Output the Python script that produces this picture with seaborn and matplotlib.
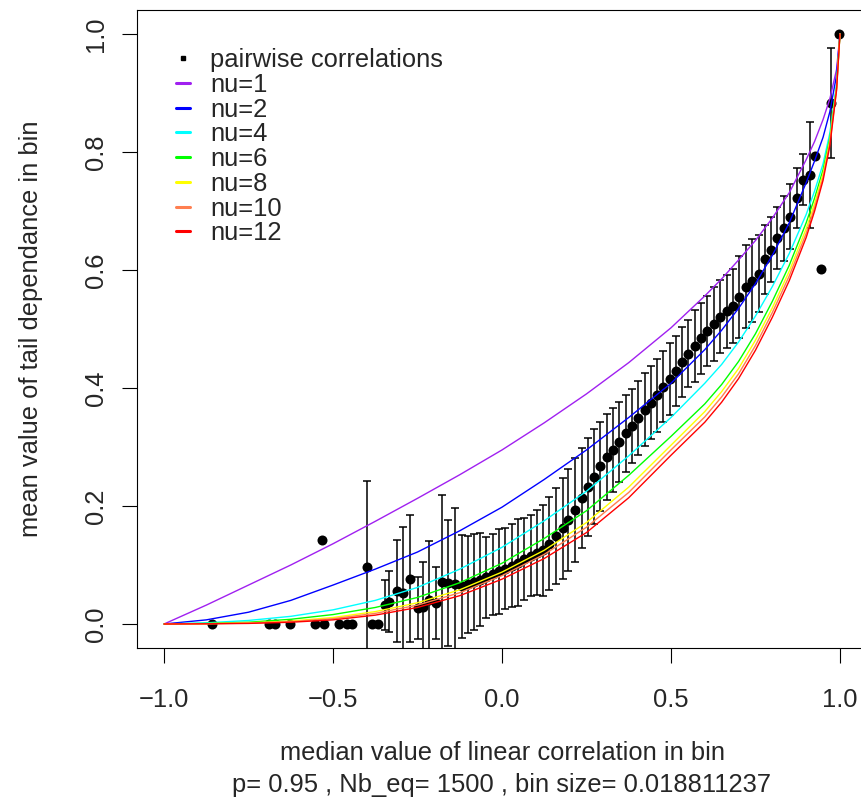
import numpy as np
import pandas as pd
import matplotlib
matplotlib.use("Agg")
import matplotlib.pyplot as plt
from matplotlib.lines import Line2D
import seaborn as sns

# ---------------------------------------------------------------------------
# data
# ---------------------------------------------------------------------------
# theoretical curves, one per nu
rho_grid = [-1.0, -0.875, -0.75, -0.625, -0.5, -0.375, -0.25, -0.125, 0.0, 0.125,
            0.25, 0.375, 0.5, 0.6, 0.65, 0.7, 0.75, 0.8, 0.85, 0.9,
            0.925, 0.95, 0.97, 0.99, 1.0]
nu1 = [0, 0.032, 0.066, 0.100, 0.136, 0.174, 0.213, 0.253, 0.295, 0.341,
       0.390, 0.443, 0.502, 0.556, 0.585, 0.617, 0.650, 0.688, 0.731, 0.787,
       0.818, 0.855, 0.890, 0.940, 1.0]
nu2 = [0, 0.007, 0.020, 0.040, 0.066, 0.093, 0.122, 0.158, 0.198, 0.245,
       0.295, 0.350, 0.408, 0.465, 0.498, 0.535, 0.577, 0.625, 0.680, 0.748,
       0.785, 0.825, 0.868, 0.930, 1.0]
nu4 = [0, 0.002, 0.006, 0.013, 0.024, 0.040, 0.062, 0.093, 0.130, 0.175,
       0.225, 0.285, 0.350, 0.408, 0.440, 0.478, 0.522, 0.572, 0.628, 0.694,
       0.734, 0.780, 0.832, 0.915, 1.0]
nu6 = [0, 0.001, 0.003, 0.008, 0.016, 0.028, 0.045, 0.070, 0.103, 0.145,
       0.192, 0.252, 0.318, 0.373, 0.406, 0.445, 0.492, 0.547, 0.608, 0.680,
       0.722, 0.770, 0.824, 0.911, 1.0]
nu8 = [0, 0.0005, 0.002, 0.005, 0.011, 0.021, 0.036, 0.058, 0.088, 0.125,
       0.172, 0.232, 0.303, 0.360, 0.394, 0.433, 0.481, 0.536, 0.598, 0.670,
       0.713, 0.763, 0.819, 0.909, 1.0]
nu10 = [0, 0.0004, 0.0015, 0.004, 0.009, 0.018, 0.032, 0.053, 0.082, 0.118,
        0.164, 0.223, 0.295, 0.351, 0.385, 0.424, 0.472, 0.528, 0.590, 0.662,
        0.706, 0.757, 0.815, 0.907, 1.0]
nu12 = [0, 0.0003, 0.001, 0.003, 0.007, 0.015, 0.028, 0.048, 0.076, 0.111,
        0.155, 0.214, 0.286, 0.342, 0.376, 0.416, 0.464, 0.520, 0.582, 0.655,
        0.700, 0.752, 0.810, 0.905, 1.0]
nu_labels = ["nu=1", "nu=2", "nu=4", "nu=6", "nu=8", "nu=10", "nu=12"]
nu_colors = ["#A020F0", "#0000FF", "#00FFFF", "#00FF00", "#FFFF00", "#FF7F50", "#FF0000"]

# binned pairwise correlations: median rho, mean tail dependence, sd (nan = no bar)
nan = np.nan
bin_rho = [-0.859, -0.688, -0.673, -0.627, -0.554, -0.533, -0.527, -0.483, -0.460, -0.445,
           -0.400, -0.386, -0.366, -0.346, -0.333, -0.310, -0.294, -0.272, -0.250, -0.233,
           -0.216, -0.195, -0.178, -0.159, -0.139, -0.119, -0.102, -0.083, -0.065, -0.047,
           -0.028, -0.008, 0.010, 0.030, 0.048, 0.066, 0.085, 0.103, 0.122, 0.140,
           0.160, 0.180, 0.196, 0.216, 0.236, 0.254, 0.272, 0.290, 0.310, 0.327,
           0.347, 0.366, 0.384, 0.403, 0.423, 0.441, 0.460, 0.477, 0.497, 0.515,
           0.533, 0.551, 0.571, 0.590, 0.608, 0.627, 0.645, 0.665, 0.683, 0.702,
           0.722, 0.739, 0.759, 0.778, 0.795, 0.815, 0.834, 0.852, 0.872, 0.890,
           0.911, 0.926, 0.944, 0.973, 0.998]
bin_mean = [0, 0, 0, 0, 0, 0.143, 0, 0, 0, 0,
            0.097, 0, 0, 0.032, 0.038, 0.056, 0.052, 0.077, 0.027, 0.029,
            0.041, 0.035, 0.072, 0.069, 0.067, 0.064, 0.067, 0.071, 0.075, 0.079,
            0.084, 0.089, 0.094, 0.099, 0.104, 0.110, 0.116, 0.121, 0.125, 0.136,
            0.149, 0.162, 0.176, 0.193, 0.213, 0.232, 0.250, 0.267, 0.283, 0.295,
            0.309, 0.323, 0.336, 0.349, 0.363, 0.375, 0.388, 0.402, 0.415, 0.429,
            0.444, 0.458, 0.471, 0.484, 0.497, 0.509, 0.521, 0.530, 0.539, 0.554,
            0.572, 0.582, 0.594, 0.618, 0.634, 0.654, 0.671, 0.690, 0.722, 0.753,
            0.761, 0.794, 0.601, 0.883, 1.0]
bin_sd = [nan, nan, nan, nan, nan, nan, nan, nan, nan, nan,
          0.146, nan, nan, 0.043, 0.052, 0.087, 0.113, 0.108, 0.053, 0.076,
          0.099, 0.061, 0.146, 0.107, 0.129, 0.087, 0.083, 0.082, 0.079, 0.068,
          0.068, 0.072, 0.068, 0.070, 0.074, 0.070, 0.069, 0.072, 0.077, 0.079,
          0.081, 0.085, 0.087, 0.088, 0.085, 0.083, 0.081, 0.076, 0.073, 0.071,
          0.068, 0.065, 0.063, 0.063, 0.062, 0.062, 0.062, 0.060, 0.061, 0.059,
          0.059, 0.057, 0.061, 0.060, 0.059, 0.063, 0.062, 0.062, 0.062, 0.069,
          0.070, 0.070, 0.065, 0.058, 0.055, 0.053, 0.055, 0.055, 0.051, 0.043,
          0.090, nan, nan, 0.093, nan]

curves = pd.DataFrame({
    "rho": rho_grid * 7,
    "tail": nu1 + nu2 + nu4 + nu6 + nu8 + nu10 + nu12,
    "nu": [lab for lab in nu_labels for _ in rho_grid],
})
bins = pd.DataFrame({"rho": bin_rho, "tail": bin_mean, "sd": bin_sd})

# ---------------------------------------------------------------------------
# plot
# ---------------------------------------------------------------------------
sns.set_style("ticks")
plt.rcParams["font.family"] = ["Liberation Sans", "DejaVu Sans"]
plt.rcParams["font.size"] = 18.4

fig = plt.figure(figsize=(8.61, 8.02), dpi=100)
ax = fig.add_axes([137 / 861, 154.4 / 802, 730 / 861, 637.2 / 802])

bars = bins.dropna()
ax.errorbar(bars["rho"], bars["tail"], yerr=bars["sd"], fmt="none",
            ecolor="black", elinewidth=1.1, capsize=3.2, capthick=1.1, zorder=2)
sns.scatterplot(data=bins, x="rho", y="tail", color="black", s=52,
                linewidth=0, ax=ax, zorder=3, legend=False)
sns.lineplot(data=curves, x="rho", y="tail", hue="nu", palette=nu_colors,
             hue_order=nu_labels, estimator=None, sort=False, linewidth=1.0,
             ax=ax, zorder=4, legend=False)

ax.set_xlim(-1.08, 1.08)
ax.set_ylim(-0.04, 1.04)
ax.set_xticks([-1.0, -0.5, 0.0, 0.5, 1.0])
ax.set_xticklabels(["\u22121.0", "\u22120.5", "0.0", "0.5", "1.0"])
ax.set_yticks([0.0, 0.2, 0.4, 0.6, 0.8, 1.0])
ax.set_yticklabels(["0.0", "0.2", "0.4", "0.6", "0.8", "1.0"], rotation=90, va="center")
ax.tick_params(direction="out", length=11, width=0.8, color="black", labelsize=18.4)
ax.tick_params(axis="x", pad=18)
ax.tick_params(axis="y", pad=10)
for s in ax.spines.values():
    s.set_visible(True)
    s.set_color("black")
    s.set_linewidth(0.8)

ax.set_xlabel("median value of linear correlation in bin\n"
              "p= 0.95 , Nb_eq= 1500 , bin size= 0.018811237",
              fontsize=18.4, linespacing=1.42)
ax.xaxis.set_label_coords((502 - 137) / 730, (647.6 - 741) / 637.2)
ax.set_ylabel("mean value of tail dependance in bin", fontsize=18.4)
ax.yaxis.set_label_coords((43 - 137) / 730, 0.5)

handles = [Line2D([], [], marker="s", markersize=2.2, color="black", linestyle="none")]
handles += [Line2D([], [], color=c, linewidth=2.2) for c in nu_colors]
ax.legend(handles, ["pairwise correlations"] + nu_labels, loc="upper left",
          bbox_to_anchor=(176 / 861, 1 - 48 / 802), bbox_transform=fig.transFigure,
          frameon=False, borderpad=0, borderaxespad=0, handlelength=0.55,
          handletextpad=0.8, labelspacing=0.03, fontsize=18.4)

plt.savefig("out.png", dpi=100)
